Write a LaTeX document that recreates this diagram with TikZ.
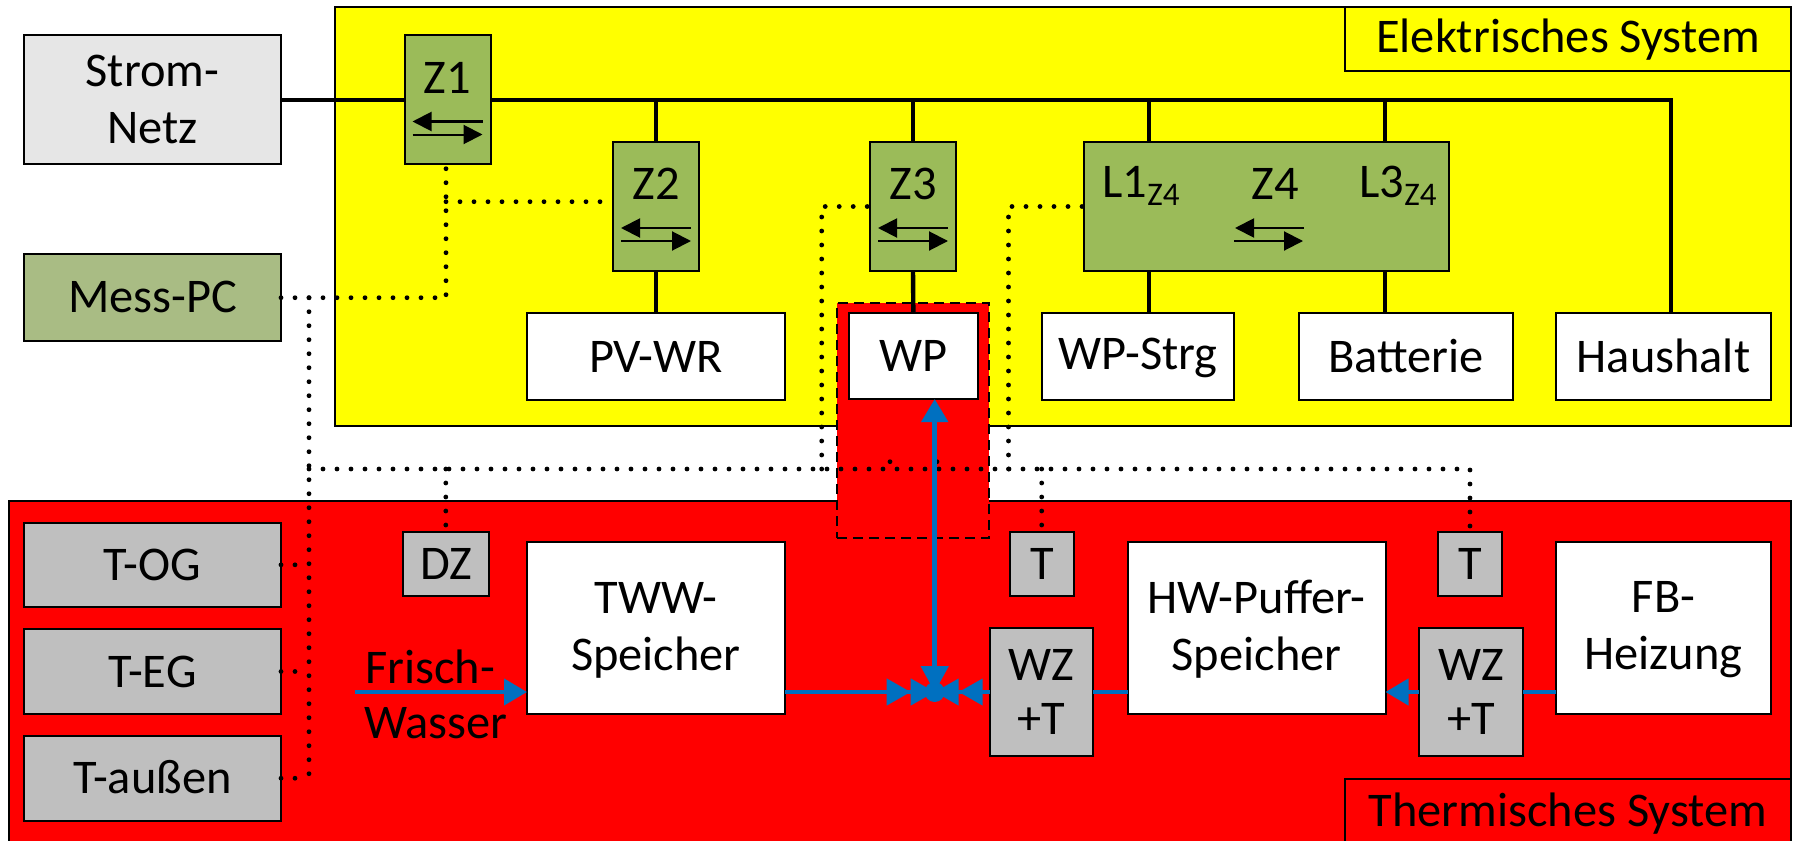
\documentclass[tikz,border=0pt]{standalone}
\usepackage{fontspec}
\setmainfont{Carlito}
\usetikzlibrary{arrows.meta,calc}
\definecolor{cyel}{HTML}{FFFF00}
\definecolor{cred}{HTML}{FF0000}
\definecolor{cgrn}{HTML}{9BBB59}
\definecolor{cmes}{HTML}{A9BC84}
\definecolor{cgry}{HTML}{BFBFBF}
\definecolor{cnet}{HTML}{E6E6E6}
\definecolor{cblu}{HTML}{0070C0}
\tikzset{
  x=0.5pt,y=-0.5pt,
  basebox/.style={draw=black,line width=1pt,rectangle,inner sep=0pt,outer sep=0pt,align=center,
    font=\fontsize{24.2}{28.5}\selectfont,text=black},
  whitebox/.style={basebox,fill=white},
  yelbox/.style={basebox,fill=cyel},
  redbox/.style={basebox,fill=cred},
  grnbox/.style={basebox,fill=cgrn},
  mesbox/.style={basebox,fill=cmes},
  grybox/.style={basebox,fill=cgry},
  netbox/.style={basebox,fill=cnet},
  wzbox/.style={grybox,font=\fontsize{24.2}{27}\selectfont},
  framebox/.style={basebox,fill=cred,dash pattern=on 5pt off 3pt},
  lbl/.style={inner sep=0pt,outer sep=0pt,font=\fontsize{24.2}{28}\selectfont,align=center},
  bus/.style={draw=black,line width=2.2pt},
  dots/.style={draw=black,line width=2.4pt,line cap=round,dash pattern=on 0pt off 7pt},
  thin arrow/.style={draw=black,line width=1pt,-{Triangle[length=9.5pt,width=9.5pt]}},
  pipe/.style={draw=cblu,line width=2.2pt},
  pipearrow/.style={pipe,-{Triangle[length=11.5pt,width=13pt,sep=0pt]}},
  pipedouble/.style={pipe,-{Triangle[length=12pt,width=13pt,sep=0pt]Triangle[length=12pt,width=13pt,sep=0pt]}},
}
\newcommand{\bx}[7]{%
  \pgfmathsetmacro{\bxw}{(#5-#3)*0.5}\pgfmathsetmacro{\bxh}{(#6-#4)*0.5}%
  \node[#2,minimum width=\bxw pt,minimum height=\bxh pt] (#1) at ({(#3+#5)/2},{(#4+#6)/2}) {#7};}
\newcommand{\zarrows}[1]{%
  \coordinate (#1la) at ($(#1.north)+(35,86)$);\coordinate (#1ra) at ($(#1.north)+(-35,86)$);
  \coordinate (#1lb) at ($(#1.north)+(-35,99)$);\coordinate (#1rb) at ($(#1.north)+(35,99)$);
  \draw[thin arrow] (#1la) -- (#1ra);
  \draw[thin arrow] (#1lb) -- (#1rb);}
\newcommand{\subz}{\raisebox{-0.35ex}{\fontsize{16.5}{16.5}\selectfont Z4}}
\newcommand{\st}{\rule[-2pt]{0pt}{19.5pt}}
\begin{document}
\begin{tikzpicture}
\useasboundingbox (0,0) rectangle (1797,840);
% backgrounds
\bx{elsys}{yelbox}{334.6}{7}{1791}{426}{}
\bx{thsys}{redbox}{9}{501}{1791}{846}{}
\bx{wpframe}{framebox}{837}{303}{989}{538}{}
\bx{ellab}{yelbox}{1345}{7}{1791}{71}{\st Elektrisches System}
\bx{thlab}{redbox}{1345}{779}{1791}{846}{\raisebox{-3pt}{\st Thermisches System}}
% left column
\bx{strom}{netbox}{24}{35.5}{281}{164}{\st Strom-\\\st Netz}
\bx{mess}{mesbox}{24}{254}{281}{340.7}{\st Mess-PC}
\bx{tog}{grybox}{24}{522.6}{281}{607}{\st T-OG}
\bx{teg}{grybox}{24}{629}{281}{714}{\st T-EG}
\bx{taus}{grybox}{24}{736}{281}{820.5}{\st T-außen}
% meters
\bx{z1}{grnbox}{404.5}{35.5}{490.5}{164}{}
\bx{z2}{grnbox}{613}{142}{699}{271}{}
\bx{z3}{grnbox}{870}{142}{956}{271}{}
\bx{z4}{grnbox}{1084}{142}{1449}{271}{}
\node[lbl] (z1t) at (447.5,78) {Z1};
\node[lbl] (z2t) at (656,184) {Z2};
\node[lbl] (z3t) at (913,184) {Z3};
\node[lbl] (z4t) at (1275,184) {Z4};
\node[lbl] (l1t) at (1141,186) {L1\subz};
\node[lbl] (l3t) at (1398,186) {L3\subz};
% electrical loads
\bx{pv}{whitebox}{527}{313}{785}{400}{\st PV-WR}
\bx{wp}{whitebox}{849}{313}{977.7}{399}{\st WP}
\bx{strg}{whitebox}{1042}{313}{1234.3}{400}{\st WP-Strg}
\bx{batt}{whitebox}{1298.7}{313}{1513}{400}{\st Batterie}
\bx{haus}{whitebox}{1556}{313}{1771}{400}{\st Haushalt}
% thermal
\bx{dz}{grybox}{403}{532}{489}{596}{\st DZ}
\bx{t1}{grybox}{1009.6}{532}{1074}{596}{\st T}
\bx{t2}{grybox}{1438}{532}{1502}{596}{\st T}
\bx{tww}{whitebox}{527}{542}{785}{714}{\st TWW-\\\st Speicher}
\bx{hw}{whitebox}{1127.7}{542}{1385.5}{714}{\st HW-Puffer-\\\st Speicher}
\bx{fb}{whitebox}{1556}{542}{1771}{714}{\st FB-\\\st Heizung}
\bx{wz1}{wzbox}{990}{628}{1093}{756}{\st WZ\\\st +T}
\bx{wz2}{wzbox}{1419}{628}{1523}{756}{\st WZ\\\st +T}
\node[lbl] (frisch) at (430,667) {Frisch-};
\node[lbl] (wasser) at (436,723) {Wasser};
% power bus
\coordinate (busend) at (1671,99.75);
\coordinate (z4a) at (1149,271);
\coordinate (z4b) at (1384.7,271);
\draw[bus] (strom.east) -- (z1.west);
\draw[bus] (z1.east) -- (busend) -- (busend |- haus.north);
\draw[bus] (z2.north |- busend) -- (z2.north);
\draw[bus] (z3.north |- busend) -- (z3.north);
\draw[bus] (z4a |- busend) -- (z4a |- z4.north);
\draw[bus] (z4b |- busend) -- (z4b |- z4.north);
\draw[bus] (z2.south) -- (pv.north);
\draw[bus] (z3.south) -- (wp.north);
\draw[bus] (z4a) -- (z4a |- strg.north);
\draw[bus] (z4b) -- (z4b |- batt.north);
% meter arrows
\zarrows{z1}\zarrows{z2}\zarrows{z3}
\coordinate (z4p) at (1304,228);\coordinate (z4q) at (1235,228);
\coordinate (z4r) at (1234,241);\coordinate (z4s) at (1303,241);
\draw[thin arrow] (z4p) -- (z4q);
\draw[thin arrow] (z4r) -- (z4s);
% measuring lines
\coordinate (m1) at (446,297.7);
\coordinate (m2) at (446,201.7);
\coordinate (v) at (309,297.7);
\coordinate (h) at (309,469);
\coordinate (h2) at (1470,469);
\coordinate (v3) at (821.7,469);
\coordinate (v4) at (1008.5,469);
\coordinate (hd) at (445.8,469);
\coordinate (ht) at (1041.7,469);
\draw[dots] (mess.east |- m1) -- (m1) -- (z1.south -| m1);
\draw[dots] (m2) -- (z2.west |- m2);
\draw[dots] (h) -- (h2) -- (h2 |- t2.north);
\draw[dots] (v) -- (v |- taus.east);
\draw[dots] (tog.east) -- (tog.east -| v);
\draw[dots] (teg.east) -- (teg.east -| v);
\draw[dots] (taus.east) -- (taus.east -| v);
\draw[dots] (hd) -- (hd |- dz.north);
\draw[dots] (ht) -- (ht |- t1.north);
\draw[dots] (v3) -- (v3 |- z3.west) -- (z3.west);
\draw[dots] (v4) -- (v4 |- z4.west) -- (z4.west);
\fill (890,461.7) circle[radius=1.2pt];
\fill (937,461.7) circle[radius=1.2pt];
% water circuit
\node[circle,fill=cblu,inner sep=0pt,outer sep=0pt,minimum size=10pt] (c) at (934.7,692) {};
\coordinate (cup) at (c |- wp.south);
\coordinate (fw) at (355,692);
\draw[pipearrow] (fw) -- (tww.west |- fw);
\draw[pipedouble] (tww.east |- c) -- (c.center);
\draw[pipedouble] (wz1.west |- c) -- (c.center);
\draw[pipe,line width=2.5pt,{Triangle[length=11.5pt,width=13pt]}-{Triangle[length=13pt,width=13.5pt]}] (cup) -- (c.center);
\draw[pipe] (hw.west |- c) -- (wz1.east |- c);
\draw[pipearrow] (wz2.west |- c) -- (hw.east |- c);
\draw[pipe] (fb.west |- c) -- (wz2.east |- c);
\end{tikzpicture}
\end{document}
